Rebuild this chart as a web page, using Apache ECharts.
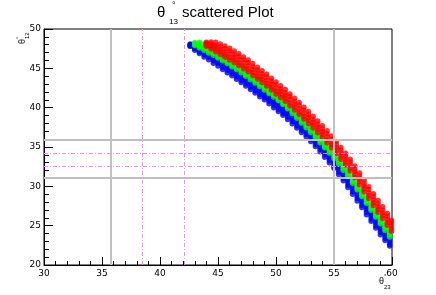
<!DOCTYPE html>
<html><head><meta charset="utf-8">
<script src="https://cdn.jsdelivr.net/npm/echarts@6/dist/echarts.min.js"></script>
<style>html,body{margin:0;padding:0;background:#fff}#c{width:436px;height:295px}</style>
</head><body><div id="c"></div>
<script>
// Axis ranges / ticks
const xTicks = [30, 35, 40, 45, 50, 55, 60];
const yTicks = [20, 25, 30, 35, 40, 45, 50];

// Reference lines
const grayX = [35.75, 55.0];
const grayY = [35.9, 31.1];
const pinkX = [38.45, 42.1];
const pinkY = [34.2, 32.6];

// Blue band: x positions and theta12 rows from upper edge to lower edge
const blueX = [42.6,43.0,43.4,43.8,44.2,44.6,45.0,45.4,45.8,46.2,46.6,47.0,47.4,47.8,48.2,48.6,49.0,49.4,49.8,50.2,50.6,51.0,51.4,51.8,52.2,52.6,53.0,53.4,53.8,54.2,54.6,55.0,55.4,55.8,56.2,56.6,57.0,57.4,57.8,58.2,58.6,59.0,59.4,59.8];
const blueHi = [48.1,47.95,47.8,47.5,47.2,46.85,46.45,46.1,45.6,45.3,44.8,44.4,43.95,43.5,43.1,42.6,42.1,41.7,41.2,40.7,40.2,39.7,39.15,38.6,38.05,37.5,36.9,36.3,35.6,34.9,34.2,33.5,32.7,31.9,31.05,30.2,29.35,28.5,27.6,26.75,25.9,25.05,24.3,23.5];
const blueQ1 = [48.0,47.8,47.55,47.25,46.9,46.55,46.15,45.8,45.3,44.95,44.5,44.1,43.65,43.2,42.8,42.3,41.8,41.4,40.9,40.4,39.9,39.4,38.85,38.3,37.75,37.2,36.6,35.95,35.3,34.6,33.9,33.2,32.4,31.6,30.75,29.9,29.05,28.2,27.3,26.45,25.6,24.75,24.0,23.2];
const blueMid = [47.95,47.65,47.35,47.0,46.65,46.25,45.85,45.45,45.05,44.65,44.2,43.8,43.35,42.9,42.45,42.0,41.55,41.1,40.6,40.1,39.6,39.1,38.55,38.0,37.45,36.9,36.3,35.65,35.0,34.3,33.6,32.9,32.1,31.3,30.45,29.6,28.75,27.9,27.0,26.15,25.3,24.45,23.7,22.95];
const blueQ3 = [47.85,47.5,47.1,46.7,46.4,45.95,45.6,45.15,44.75,44.35,43.9,43.5,43.05,42.6,42.15,41.7,41.3,40.8,40.3,39.8,39.3,38.8,38.25,37.7,37.15,36.6,36.0,35.35,34.7,34.0,33.3,32.6,31.8,31.0,30.15,29.3,28.45,27.6,26.7,25.85,25.0,24.15,23.4,22.65];
const blueLo = [47.8,47.3,46.9,46.45,46.1,45.65,45.3,44.85,44.45,44.05,43.6,43.2,42.75,42.3,41.85,41.4,41.0,40.5,40.0,39.5,39.05,38.5,37.95,37.4,36.85,36.3,35.7,35.05,34.4,33.7,33.0,32.3,31.5,30.7,29.85,29.0,28.15,27.3,26.4,25.55,24.7,23.85,23.1,22.4];

// Green band
const greenX = [43.0,43.4,43.8,44.2,44.6,45.0,45.4,45.8,46.2,46.6,47.0,47.4,47.8,48.2,48.6,49.0,49.4,49.8,50.2,50.6,51.0,51.4,51.8,52.2,52.6,53.0,53.4,53.8,54.2,54.6,55.0,55.4,55.8,56.2,56.6,57.0,57.4,57.8,58.2,58.6,59.0,59.4,59.8];
const greenHi = [48.25,48.3,48.1,47.85,47.55,47.2,46.85,46.5,46.1,45.75,45.35,44.9,44.45,44.05,43.6,43.15,42.7,42.25,41.8,41.3,40.75,40.15,39.55,38.95,38.35,37.75,37.1,36.45,35.8,35.15,34.45,33.75,32.95,32.15,31.3,30.45,29.6,28.75,27.85,27.0,26.15,25.3,24.45];
const greenQ1 = [48.2,48.1,47.9,47.6,47.3,46.95,46.6,46.3,45.9,45.5,45.1,44.7,44.2,43.8,43.4,42.9,42.5,42.0,41.6,41.1,40.5,39.9,39.3,38.7,38.1,37.5,36.9,36.2,35.6,34.9,34.2,33.5,32.7,31.9,31.1,30.2,29.4,28.5,27.6,26.8,25.9,25.1,24.2];
const greenMid = [48.1,47.95,47.7,47.4,47.1,46.75,46.4,46.05,45.65,45.3,44.9,44.45,44.0,43.6,43.15,42.7,42.25,41.8,41.35,40.85,40.3,39.7,39.1,38.5,37.9,37.3,36.65,36.0,35.35,34.7,34.0,33.3,32.5,31.7,30.85,30.0,29.15,28.3,27.4,26.55,25.7,24.85,24.0];
const greenQ3 = [48.0,47.8,47.5,47.2,46.9,46.5,46.2,45.8,45.4,45.1,44.7,44.2,43.8,43.4,42.9,42.5,42.0,41.6,41.1,40.6,40.1,39.5,38.9,38.3,37.7,37.1,36.4,35.8,35.1,34.5,33.8,33.1,32.3,31.5,30.6,29.8,28.9,28.1,27.2,26.3,25.5,24.6,23.8];
const greenLo = [47.9,47.6,47.3,46.95,46.65,46.3,45.95,45.6,45.2,44.85,44.45,44.0,43.55,43.15,42.7,42.25,41.8,41.35,40.9,40.4,39.85,39.25,38.65,38.05,37.45,36.85,36.2,35.55,34.9,34.25,33.55,32.85,32.05,31.25,30.4,29.55,28.7,27.85,26.95,26.1,25.25,24.4,23.55];

// Red band
const redX = [44.0,44.4,44.8,45.2,45.6,46.0,46.4,46.8,47.2,47.6,48.0,48.4,48.8,49.2,49.6,50.0,50.4,50.8,51.2,51.6,52.0,52.4,52.8,53.2,53.6,54.0,54.4,54.8,55.2,55.6,56.0,56.4,56.8,57.2,57.6,58.0,58.4,58.8,59.2,59.6,59.95];
const redHi = [48.3,48.35,48.3,48.1,47.85,47.55,47.2,46.85,46.45,46.05,45.6,45.15,44.7,44.25,43.75,43.25,42.8,42.3,41.75,41.2,40.65,40.05,39.5,38.9,38.3,37.7,37.05,36.4,35.7,34.95,34.2,33.45,32.6,31.7,30.8,29.95,29.05,28.2,27.4,26.55,25.7];
const redQ1 = [48.2,48.1,47.95,47.75,47.5,47.2,46.8,46.5,46.1,45.7,45.2,44.8,44.3,43.9,43.4,42.9,42.4,41.9,41.4,40.8,40.3,39.7,39.1,38.5,37.9,37.3,36.7,36.0,35.3,34.6,33.8,33.1,32.2,31.3,30.4,29.6,28.7,27.8,27.0,26.2,25.4];
const redMid = [48.05,47.9,47.65,47.4,47.1,46.8,46.45,46.1,45.7,45.3,44.85,44.4,43.95,43.5,43.0,42.5,42.05,41.55,41.0,40.45,39.9,39.3,38.75,38.15,37.55,36.95,36.3,35.65,34.95,34.2,33.45,32.7,31.85,30.95,30.05,29.2,28.3,27.45,26.65,25.8,25.0];
const redQ3 = [47.9,47.7,47.4,47.1,46.75,46.4,46.1,45.7,45.3,44.9,44.5,44.0,43.6,43.1,42.6,42.1,41.7,41.2,40.6,40.1,39.5,38.9,38.4,37.8,37.2,36.6,35.9,35.3,34.6,33.8,33.1,32.3,31.5,30.6,29.7,28.8,27.9,27.1,26.3,25.4,24.6];
const redLo = [47.8,47.45,47.1,46.75,46.4,46.05,45.7,45.35,44.95,44.55,44.1,43.65,43.2,42.75,42.25,41.75,41.3,40.8,40.25,39.7,39.15,38.55,38.0,37.4,36.8,36.2,35.55,34.9,34.2,33.45,32.7,31.95,31.1,30.2,29.3,28.45,27.55,26.7,25.9,25.05,24.3];

function band(xs, rows) {
  const pts = [];
  xs.forEach((x, i) => { rows.forEach(r => pts.push([x, r[i]])); });
  return pts;
}

const chart = echarts.init(document.getElementById('c'), null, {renderer: 'canvas'});
const FONT = 'DejaVu Sans';
const TFONT = 'Liberation Sans';

function axisCommon(min, max, majorLen, minorLen, margin) {
  return {
    min: min, max: max, interval: 5,
    axisLine: {show: true, onZero: false, lineStyle: {color: '#000', width: 1}},
    axisTick: {show: true, inside: true, length: majorLen, lineStyle: {color: '#000'}},
    minorTick: {show: true, splitNumber: 5, length: minorLen, lineStyle: {color: '#000'}},
    splitLine: {show: false},
    axisLabel: {fontFamily: FONT, fontSize: 9, color: '#000', margin: margin,
      showMinLabel: true, showMaxLabel: true}
  };
}

const refLines = [];
grayX.forEach(v => refLines.push({xAxis: v, lineStyle: {color: '#c0c0c0', width: 2, type: 'solid'}}));
grayY.forEach(v => refLines.push({yAxis: v, lineStyle: {color: '#c0c0c0', width: 2, type: 'solid'}}));
pinkX.forEach(v => refLines.push({xAxis: v, lineStyle: {color: '#ff80ff', width: 1, type: [4, 2, 1, 2]}}));
pinkY.forEach(v => refLines.push({yAxis: v, lineStyle: {color: '#ff80ff', width: 1, type: [4, 2, 1, 2]}}));

const sym = 5.5;
chart.setOption({
  animation: false,
  backgroundColor: '#fff',
  grid: {left: 44, right: 44, top: 29, bottom: 30, show: true, borderColor: '#000', borderWidth: 1, backgroundColor: 'transparent'},
  xAxis: Object.assign({type: 'value'}, axisCommon(xTicks[0], xTicks[xTicks.length - 1], 8, 4, 4)),
  yAxis: Object.assign({type: 'value'}, axisCommon(yTicks[0], yTicks[yTicks.length - 1], 9, 5, 3)),
  series: [
    {type: 'scatter', data: [], z: 1, silent: true,
     markLine: {silent: true, symbol: ['none', 'none'], label: {show: false}, animation: false, data: refLines}},
    {type: 'scatter', name: 'blue', z: 2, data: band(blueX, [blueHi, blueQ1, blueMid, blueQ3, blueLo]), symbol: 'circle', symbolSize: sym, itemStyle: {color: '#0000ff'}},
    {type: 'scatter', name: 'green', z: 3, data: band(greenX, [greenHi, greenQ1, greenMid, greenQ3, greenLo]), symbol: 'circle', symbolSize: sym, itemStyle: {color: '#00ff00'}},
    {type: 'scatter', name: 'red', z: 4, data: band(redX, [redHi, redQ1, redMid, redQ3, redLo]), symbol: 'circle', symbolSize: sym, itemStyle: {color: '#ff0000'}}
  ],
  graphic: [
    {type: 'text', left: 157, top: 5, style: {text: 'θ', font: '15px ' + TFONT, fill: '#000'}},
    {type: 'text', left: 172, top: 1, style: {text: '°', font: '9px ' + TFONT, fill: '#000'}},
    {type: 'text', left: 169, top: 18, style: {text: '13', font: '8px ' + TFONT, fill: '#000'}},
    {type: 'text', left: 182, top: 5, style: {text: 'scattered Plot', font: '15px ' + TFONT, fill: '#000'}},
    // y-axis title (rotated)
    {type: 'group', x: 18, y: 44, rotation: Math.PI / 2, children: [
      {type: 'text', x: 0, y: 0, style: {text: 'θ', font: '9px ' + TFONT, fill: '#000'}},
      {type: 'text', x: 5, y: 6, style: {text: '12', font: '6px ' + TFONT, fill: '#000'}},
      {type: 'text', x: 5, y: -3, style: {text: '°', font: '6px ' + TFONT, fill: '#000'}}
    ]},
    // x-axis title
    {type: 'text', left: 379, top: 277, style: {text: 'θ', font: '9px ' + TFONT, fill: '#000'}},
    {type: 'text', left: 384, top: 273, style: {text: '°', font: '6px ' + TFONT, fill: '#000'}},
    {type: 'text', left: 384, top: 284, style: {text: '23', font: '6px ' + TFONT, fill: '#000'}}
  ]
});
</script></body></html>
